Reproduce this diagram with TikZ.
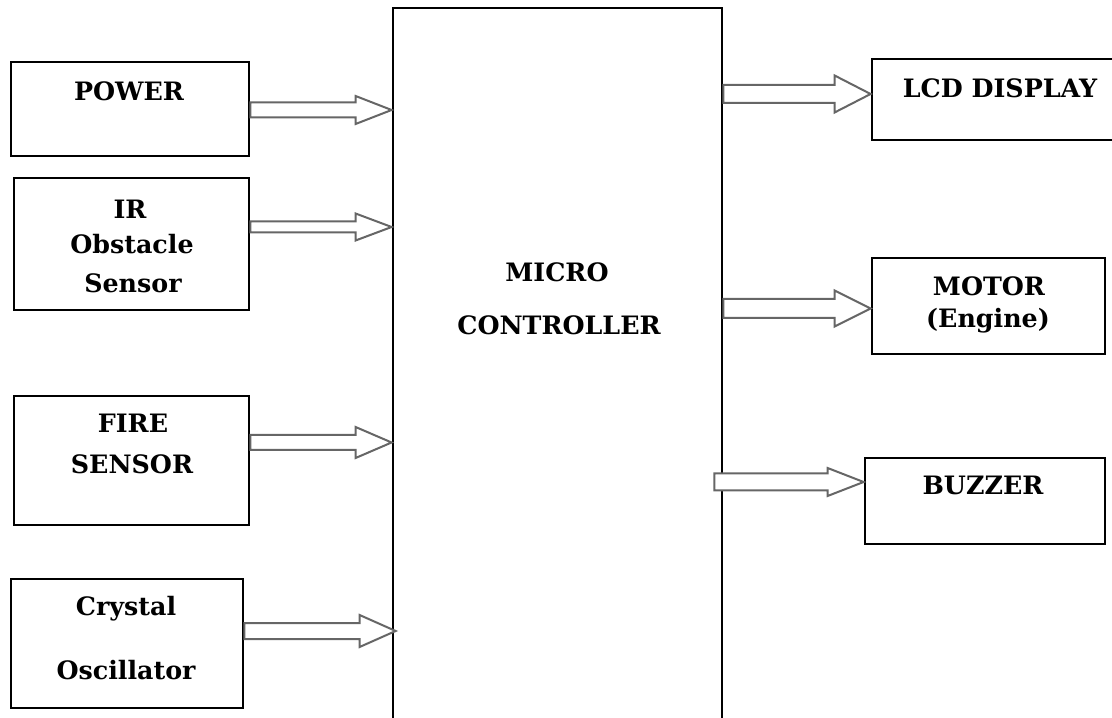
\documentclass[tikz,border=0pt]{standalone}
\usepackage{fontspec}
\setmainfont{DejaVu Serif}
\usetikzlibrary{calc}
\newcommand\fatarrow[5]{%
  \coordinate (as) at (#1 |- 0,#3);
  \coordinate (ae) at (#2 |- 0,#3);
  \draw[fatarr] ($(as)+(0,#4)$) -- ($(ae)+(-36,#4)$) -- ($(ae)+(-36,#5)$) -- (ae)
     -- ($(ae)+(-36,-#5)$) -- ($(ae)+(-36,-#4)$) -- ($(as)+(0,-#4)$) -- cycle;}
\begin{document}
\begin{tikzpicture}[x=0.75pt,y=0.75pt,
  box/.style={draw=black, line width=2.1pt, inner sep=0pt, fill=white},
  lbl/.style={font=\fontsize{19}{22}\selectfont\bfseries, inner sep=0pt,
              text height=13.9pt, text depth=0pt},
  fatarr/.style={draw=black!60, line width=1.5pt, line join=miter, fill=white}]
\useasboundingbox (0,0) rectangle (1112,717);
% boxes
\node[box, minimum width=178.5pt, minimum height=70.5pt] (power) at (130,608) {};
\node[box, minimum width=176.25pt, minimum height=99pt] (ir) at (131.5,473) {};
\node[box, minimum width=176.25pt, minimum height=96.75pt] (fire) at (131.5,256.5) {};
\node[box, minimum width=174pt, minimum height=96.75pt] (crystal) at (127,73.5) {};
\node[box, minimum width=246.75pt, minimum height=549pt] (micro) at (557.5,343) {};
\node[box, minimum width=184.5pt, minimum height=60.75pt] (lcd) at (995,617.5) {};
\node[box, minimum width=174.75pt, minimum height=72pt] (motor) at (988.5,411) {};
\node[box, minimum width=180pt, minimum height=64.5pt] (buzzer) at (985,216) {};
% labels
\node[lbl] (tpower) at (129,626) {POWER};
\node[lbl] (tir1) at (130,508) {IR};
\node[lbl] (tir2) at (132,473) {Obstacle};
\node[lbl] (tir3) at (133,434) {Sensor};
\node[lbl] (tfire1) at (133,294) {FIRE};
\node[lbl] (tfire2) at (132,253) {SENSOR};
\node[lbl] (tcr1) at (126,111) {Crystal};
\node[lbl] (tcr2) at (126,47) {Oscillator};
\node[lbl] (tmc1) at (557,445) {MICRO};
\node[lbl] (tmc2) at (559,392) {CONTROLLER};
\node[lbl] (tlcd) at (1000,629) {LCD DISPLAY};
\node[lbl] (tmot1) at (989,431) {MOTOR};
\node[lbl] (tmot2) at (988,399) {(Engine)};
\node[lbl] (tbuz) at (983,232) {BUZZER};
% arrows
\coordinate (crt) at ([xshift=3pt]micro.west);
\coordinate (bzs) at ([xshift=-6.75pt]micro.east);
\fatarrow{power.east}{micro.west}{607}{7.5}{14}
\fatarrow{ir.east}{micro.west}{490}{5.5}{13.5}
\fatarrow{fire.east}{micro.west}{274.5}{7.5}{15.5}
\fatarrow{crystal.east}{crt}{86}{8}{16}
\fatarrow{micro.east}{lcd.west}{623}{9}{18.5}
\fatarrow{micro.east}{motor.west}{408.5}{9.5}{18}
\fatarrow{bzs}{buzzer.west}{235}{8.5}{14}
\end{tikzpicture}
\end{document}
